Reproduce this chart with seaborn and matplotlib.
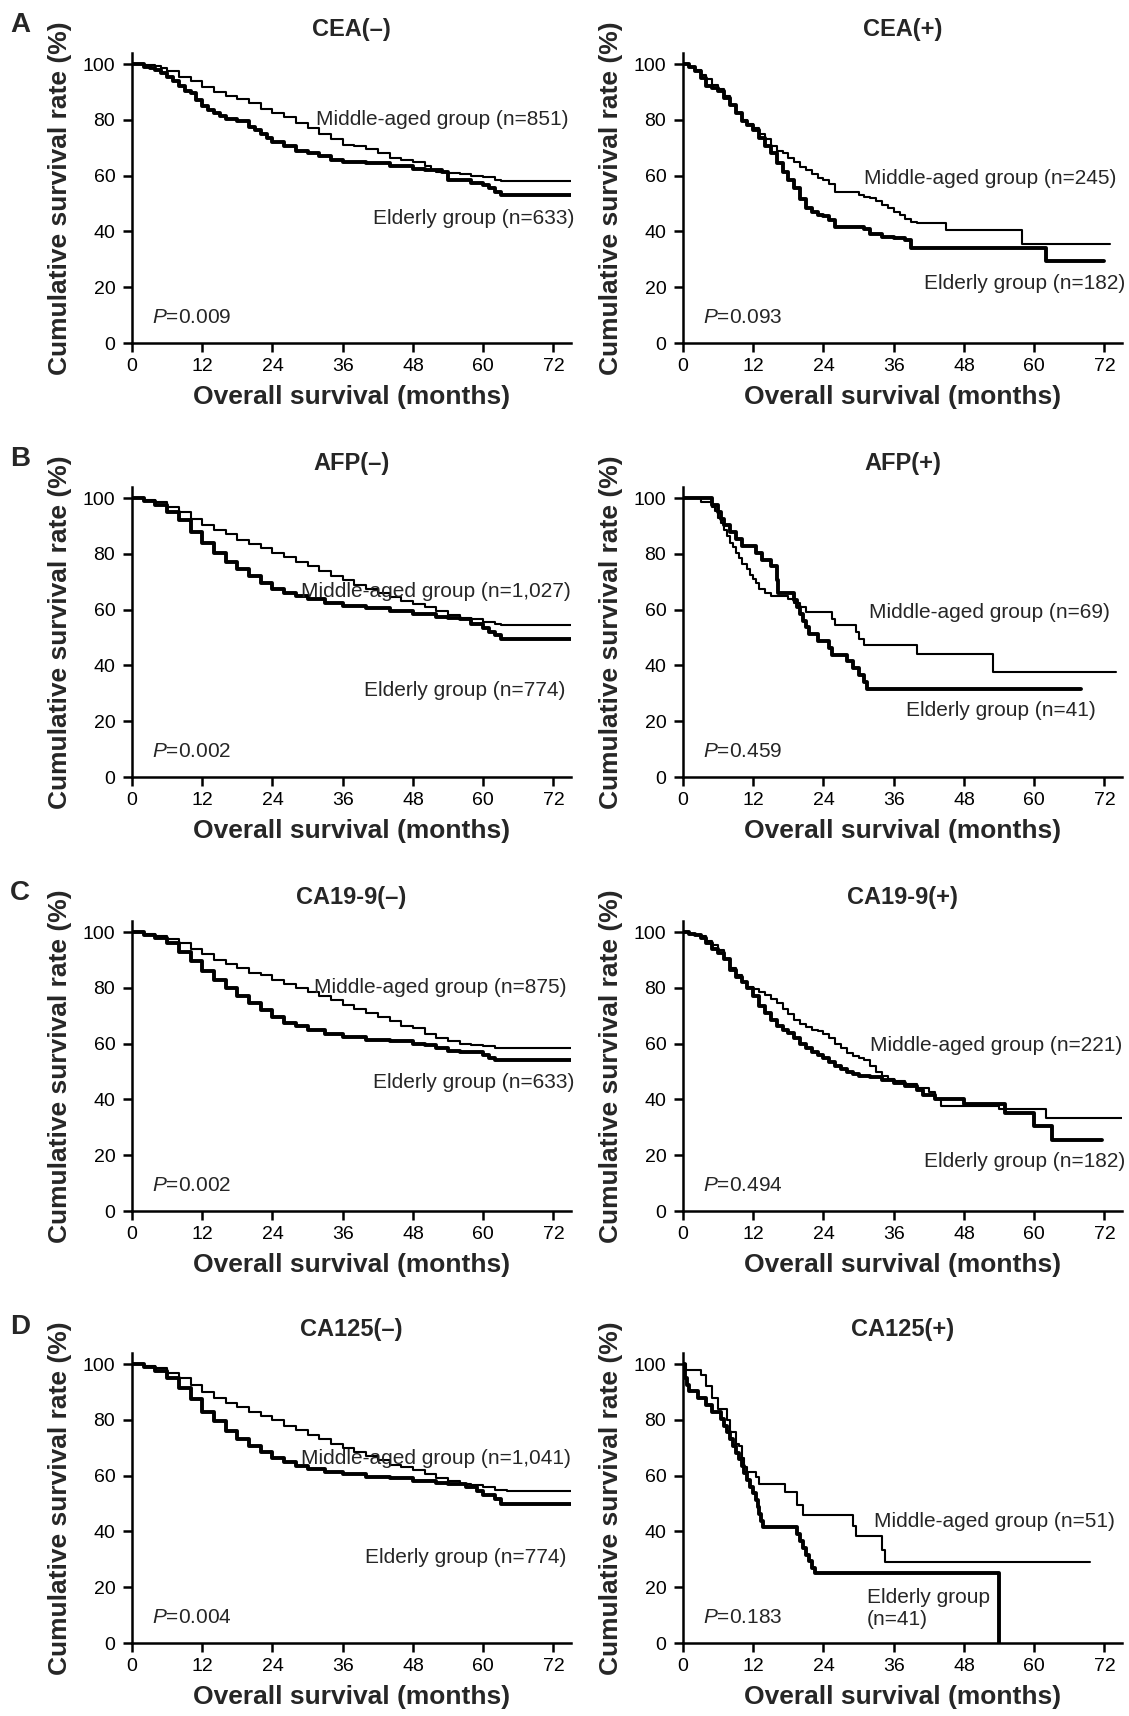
"""
plot.py
-------
Kaplan-Meier overall survival, middle-aged vs elderly, split by tumour marker.
"""

import pandas as pd
import matplotlib
matplotlib.use("Agg")
import matplotlib.pyplot as plt
import seaborn as sns

# ── step points: (month, cumulative survival %) ────────────────────────────

CEA_NEG_MID = [(0, 100), (2, 99.6), (4, 99.2), (5, 98.5), (6, 97.5), (8, 95.5), (10, 93.8),
               (12, 91.8), (14, 90), (16, 88.5), (18, 87.5), (20, 86), (22, 84), (24, 82.5),
               (26, 81), (28, 79), (30, 77), (32, 75), (34, 73), (36, 71), (38, 70.5), (40, 69.5),
               (42, 68), (44, 66.5), (46, 65.5), (48, 65), (50, 63.5), (51, 62), (52, 61.5),
               (54, 61), (56, 60.5), (58, 60), (60, 59.5), (62, 58.5), (63, 58), (75, 58)]
CEA_NEG_ELD = [(0, 100), (2, 99), (3, 98.5), (4, 98), (5, 97), (6, 95.5), (7, 94), (8, 92),
               (9, 90.5), (10, 89.5), (11, 87), (12, 85), (13, 83.5), (14, 82.5), (15, 81.5),
               (16, 80.5), (18, 79.5), (20, 77.5), (21, 76.5), (22, 75), (23, 73.5), (24, 72),
               (26, 70.5), (28, 69), (30, 68), (32, 67), (34, 65.5), (36, 65), (40, 64.5),
               (44, 63.5), (48, 62.5), (50, 62), (53, 61.5), (54, 58.5), (57, 58.5), (58, 57.5),
               (60, 56.5), (61, 55.5), (62, 54), (63, 53), (75, 53)]

CEA_POS_MID = [(0, 100), (1, 99), (2, 98), (3, 96), (4, 94.5), (5, 92.5), (6, 91), (7, 88.5),
               (8, 85.5), (9, 82.5), (10, 80), (11, 78.5), (12, 77), (13, 75), (14, 73),
               (15, 70.5), (16, 69), (17, 68), (18, 66.5), (19, 65), (20, 63), (21, 62),
               (22, 60.5), (23, 59), (24, 58.5), (25, 57), (26, 54), (28, 54), (30, 53),
               (31, 52.5), (32, 52), (33, 51), (34, 49.5), (35, 48.5), (36, 47), (37, 46),
               (38, 44.5), (39, 43.5), (40, 43), (45, 40.5), (58, 35.5), (73, 35.5)]
CEA_POS_ELD = [(0, 100), (1, 99), (2, 97.5), (3, 95), (4, 92), (5, 91.5), (6, 90.5), (7, 88),
               (8, 85.5), (9, 82.5), (10, 79.5), (11, 78), (12, 76.5), (13, 73.5), (14, 70.5),
               (15, 68), (16, 64.5), (17, 61.5), (18, 58.5), (19, 55.5), (20, 51.5), (21, 48.5),
               (22, 47), (23, 46), (24, 45.5), (25, 44), (26, 41.5), (31, 41), (32, 39),
               (34, 38), (36, 37.5), (38, 37), (39, 34), (62, 29.5), (72, 29.5)]

AFP_NEG_MID = [(0, 100), (2, 99.5), (4, 98.5), (6, 97), (8, 95), (10, 92.5), (12, 90.5),
               (14, 88.5), (16, 87), (18, 85), (20, 83.5), (22, 82), (24, 80.5), (26, 79),
               (28, 77), (30, 75.5), (32, 74), (34, 72), (36, 70.5), (38, 69), (40, 67.5),
               (42, 66), (44, 64.5), (46, 63), (48, 62), (50, 61), (52, 59.5), (54, 58),
               (56, 57), (58, 56.5), (60, 55.5), (62, 55), (63, 54.5), (75, 54.5)]
AFP_NEG_ELD = [(0, 100), (2, 99), (4, 97.5), (6, 95), (8, 92), (10, 88), (12, 84), (14, 80.5),
               (16, 77), (18, 74.5), (20, 72), (22, 69.5), (24, 67.5), (26, 66), (28, 65),
               (30, 64), (33, 62.5), (36, 61.5), (40, 60.5), (44, 59.5), (48, 58.5), (52, 57.5),
               (54, 57), (56, 56.5), (58, 55), (60, 53.5), (61, 52), (62, 51), (63, 49.5),
               (75, 49.5)]

AFP_POS_MID = [(0, 100), (3, 98.5), (5, 97), (5.5, 95.5), (6, 93), (6.5, 91), (7, 88.5),
               (7.5, 86.5), (8, 84), (8.5, 82.5), (9, 80.5), (9.5, 78.5), (10, 76.5), (11, 74.5),
               (11.5, 72.5), (12, 71), (12.5, 69.5), (13, 67.5), (14, 66), (15, 65), (18, 64),
               (19, 62.5), (20, 61), (21, 59), (25.5, 56.5), (26, 54.5), (29.5, 52), (30, 49.5),
               (31, 47.5), (40, 44), (53, 37.5), (74, 37.5)]
AFP_POS_ELD = [(0, 100), (5, 97.6), (6, 95.1), (6.5, 92.7), (7, 90.2), (8, 87.8), (9, 85.4),
               (10, 82.9), (12.5, 80.5), (13.5, 78), (15, 75.6), (16, 70.7), (16.3, 65.9),
               (19, 63.4), (19.5, 61), (20, 58.5), (20.5, 56.1), (21, 53.7), (21.5, 51.2),
               (23, 48.8), (25, 46.3), (25.5, 43.9), (28, 41.5), (29, 39), (30, 36.6),
               (31, 34.1), (31.5, 31.7), (68, 31.7)]

CA199_NEG_MID = [(0, 100), (2, 99.5), (4, 98.5), (6, 97.5), (8, 96), (10, 94), (12, 92),
                 (14, 90), (16, 88.5), (18, 87), (20, 85.5), (22, 84.5), (24, 83), (26, 81.5),
                 (28, 80), (30, 78.5), (32, 77), (34, 75.5), (36, 74), (38, 72.5), (40, 71),
                 (42, 69.5), (44, 68), (46, 66.5), (48, 65.5), (50, 63.5), (52, 62), (54, 61),
                 (56, 60), (58, 59.5), (60, 59), (62, 58.5), (75, 58.5)]
CA199_NEG_ELD = [(0, 100), (2, 99), (4, 98), (6, 96), (8, 93), (10, 89.5), (12, 86), (14, 83),
                 (16, 80), (18, 77), (20, 74.5), (22, 72), (24, 69.5), (26, 67.5), (28, 66.5),
                 (30, 65), (33, 63.5), (36, 62.5), (40, 61.5), (44, 61), (48, 60), (50, 59.5),
                 (52, 58.5), (54, 57.5), (56, 57), (60, 56), (61, 55), (62, 54), (75, 54)]

CA199_POS_MID = [(0, 100), (1, 99.5), (2, 99), (3, 98.5), (4, 97), (5, 95.5), (6, 93.5),
                 (7, 90.5), (8, 87), (9, 84.5), (10, 82), (11, 80.5), (12, 79.5), (13, 78.5),
                 (14, 77.5), (15, 76), (16, 74.5), (17, 72.5), (18, 70.5), (19, 68.5), (20, 67),
                 (21, 66), (22, 65), (23, 64.5), (24, 63.5), (25, 62), (26, 60), (27, 58.5),
                 (28, 56.5), (29, 55.5), (30, 55), (31, 54), (32, 52), (33, 50), (34, 48.5),
                 (35, 47.5), (36, 46.5), (38, 45.5), (40, 44), (42, 42.5), (43, 40), (44, 37.5),
                 (54, 36.5), (62, 33.3), (75, 33.3)]
CA199_POS_ELD = [(0, 100), (1, 99.5), (2, 99), (3, 98), (4, 96), (5, 94), (6, 92.5), (7, 90.5),
                 (8, 86.5), (9, 84), (10, 82), (11, 80), (12, 77), (13, 73.5), (14, 71),
                 (15, 68.5), (16, 66.5), (17, 65), (18, 64), (19, 62), (20, 60), (21, 58.5),
                 (22, 57), (23, 56), (24, 55), (25, 53.5), (26, 52), (27, 51), (28, 50), (29, 49),
                 (30, 48.5), (32, 48), (34, 47), (36, 46), (38, 45), (40, 43.5), (41, 41.5),
                 (43, 40), (48, 38.5), (55, 35), (60, 30.5), (63, 25.3), (71.5, 25.3)]

CA125_NEG_MID = [(0, 100), (2, 99.5), (4, 98.5), (6, 97), (8, 95), (10, 92.5), (12, 90),
                 (14, 88), (16, 86), (18, 84.5), (20, 83), (22, 81.5), (24, 80), (26, 78),
                 (28, 76.5), (30, 74.5), (32, 73), (34, 71.5), (36, 70), (38, 68.5), (40, 67),
                 (42, 65.5), (44, 64), (46, 63), (48, 62), (50, 60.5), (52, 59), (54, 58),
                 (56, 57), (58, 56.5), (60, 56), (62, 55), (64, 54.5), (75, 54.5)]
CA125_NEG_ELD = [(0, 100), (2, 99), (4, 97.5), (6, 95), (8, 91.5), (10, 87.5), (12, 83),
                 (14, 79.5), (16, 76), (18, 73), (20, 70.5), (22, 68.5), (24, 66.5), (26, 65),
                 (28, 63.5), (30, 62.5), (33, 61.5), (36, 60.5), (40, 59.5), (44, 59), (48, 58),
                 (52, 57.5), (54, 57), (57, 56), (59, 54.5), (60, 53), (62, 51.5), (63, 50),
                 (75, 50)]

CA125_POS_MID = [(0, 100), (0.5, 98), (3, 96), (4, 92), (5, 88), (6, 84), (7.5, 80), (8, 75.5),
                 (9, 71.5), (9.5, 70.5), (10, 66.5), (10.5, 63), (11, 61.5), (12.5, 59.5),
                 (13, 57), (17.5, 54), (19.5, 49.5), (20.5, 46), (29, 42), (29.5, 38.5),
                 (34, 33.5), (34.5, 29), (69.5, 29)]
CA125_POS_ELD = [(0, 100), (0.3, 95), (0.7, 92.7), (1, 90.2), (2.5, 87.8), (4, 85.4), (5, 82.9),
                 (6.5, 80.5), (7, 78), (7.5, 75.6), (8, 73.2), (8.5, 70.7), (9, 68.3),
                 (9.5, 65.9), (10, 63.4), (10.5, 61), (11, 58.5), (11.5, 56.1), (12, 53.7),
                 (12.5, 51.2), (12.8, 48.8), (13, 46.3), (13.3, 43.9), (13.6, 41.5), (19.5, 39),
                 (20, 36.6), (20.5, 34.1), (21, 31.7), (21.5, 29.3), (22, 26.8), (22.5, 25),
                 (54, 0)]

TITLES = ["CEA(–)", "CEA(+)", "AFP(–)", "AFP(+)", "CA19-9(–)", "CA19-9(+)", "CA125(–)", "CA125(+)"]
MID_CURVES = [CEA_NEG_MID, CEA_POS_MID, AFP_NEG_MID, AFP_POS_MID,
              CA199_NEG_MID, CA199_POS_MID, CA125_NEG_MID, CA125_POS_MID]
ELD_CURVES = [CEA_NEG_ELD, CEA_POS_ELD, AFP_NEG_ELD, AFP_POS_ELD,
              CA199_NEG_ELD, CA199_POS_ELD, CA125_NEG_ELD, CA125_POS_ELD]
MID_N = ["851", "245", "1,027", "69", "875", "221", "1,041", "51"]
ELD_N = ["633", "182", "774", "41", "633", "182", "774", "41"]
P_VALUES = ["0.009", "0.093", "0.002", "0.459", "0.002", "0.494", "0.004", "0.183"]
ROW_LETTERS = ["A", "B", "C", "D"]
X_TICKS = [0, 12, 24, 36, 48, 60, 72]
Y_TICKS = [0, 20, 40, 60, 80, 100]

# group label placement (x, y, ha) in data units, per panel
MID_POS = [(74.5, 80, "right"), (74, 59, "right"), (75, 66.7, "right"), (73, 59, "right"),
           (74.2, 80.3, "right"), (75, 59.5, "right"), (75, 66, "right"), (32.6, 43.4, "left")]
ELD_POS = [(75.5, 44.5, "right"), (75.5, 21.5, "right"), (74, 31, "right"), (70.6, 24, "right"),
           (75.5, 46, "right"), (75.5, 17.6, "right"), (74.2, 30.5, "right"), (31.4, 12.4, "left")]

sns.set_theme(style="ticks")
plt.rcParams["font.family"] = ["Liberation Sans", "DejaVu Sans"]
plt.rcParams["mathtext.fontset"] = "custom"
plt.rcParams["mathtext.it"] = "Liberation Sans:italic"
plt.rcParams["mathtext.rm"] = "Liberation Sans"

W, H = 1129, 1716
ROW_ZERO = [343, 777, 1211, 1643]   # pixel row of y=0 for each row
COL_X0 = [132, 683]
AX_W, AX_H = 439, 290


def draw_curve(ax, points, lw):
    df = pd.DataFrame(points, columns=["month", "survival"])
    sns.lineplot(data=df, x="month", y="survival", estimator=None, sort=False,
                 drawstyle="steps-post", color="black", linewidth=lw, ax=ax)


def draw_panel(fig, i):
    row, col = divmod(i, 2)
    rect = [COL_X0[col] / W, (H - ROW_ZERO[row]) / H, AX_W / W, AX_H / H]
    ax = fig.add_axes(rect)
    ax.set_facecolor("white")

    draw_curve(ax, MID_CURVES[i], 1.5)
    draw_curve(ax, ELD_CURVES[i], 2.8)

    ax.set_xlim(0, 75); ax.set_ylim(0, 104)
    ax.set_xticks(X_TICKS); ax.set_yticks(Y_TICKS)
    for s in ["top", "right"]:
        ax.spines[s].set_visible(False)
    for s in ["left", "bottom"]:
        ax.spines[s].set_linewidth(1.8)
        ax.spines[s].set_color("black")
    ax.tick_params(axis="both", direction="out", length=6.5, width=1.8,
                   labelsize=14, colors="black")
    ax.tick_params(axis="y", pad=5.5)
    ax.tick_params(axis="x", pad=4)

    ax.set_xlabel("Overall survival (months)", fontsize=19, fontweight="bold")
    ax.set_ylabel("Cumulative survival rate (%)", fontsize=19, fontweight="bold")
    ax.xaxis.set_label_coords(0.5, -0.145)
    ax.yaxis.set_label_coords(-0.137, 0.5)
    ax.set_title(TITLES[i], fontsize=17, fontweight="bold", pad=12)

    mx, my, mha = MID_POS[i]
    ax.text(mx, my, f"Middle-aged group (n={MID_N[i]})", ha=mha, va="center", fontsize=15)
    ex, ey, eha = ELD_POS[i]
    eld_txt = f"Elderly group (n={ELD_N[i]})" if eha == "right" else f"Elderly group\n(n={ELD_N[i]})"
    ax.text(ex, ey, eld_txt, ha=eha, va="center", fontsize=15, linespacing=1.25)
    ax.text(3.4, 9.2, f"$P$={P_VALUES[i]}", ha="left", va="center", fontsize=15)
    return ax


def main():
    fig = plt.figure(figsize=(W / 100, H / 100), dpi=100)
    for i in range(8):
        draw_panel(fig, i)
    for r, letter in enumerate(ROW_LETTERS):
        fig.text(20 / W, 1 - (25 + 434 * r) / H, letter, ha="center", va="center",
                 fontsize=20, fontweight="bold")
    fig.savefig("out.png", dpi=100, facecolor="white")
    plt.close(fig)


if __name__ == "__main__":
    main()
